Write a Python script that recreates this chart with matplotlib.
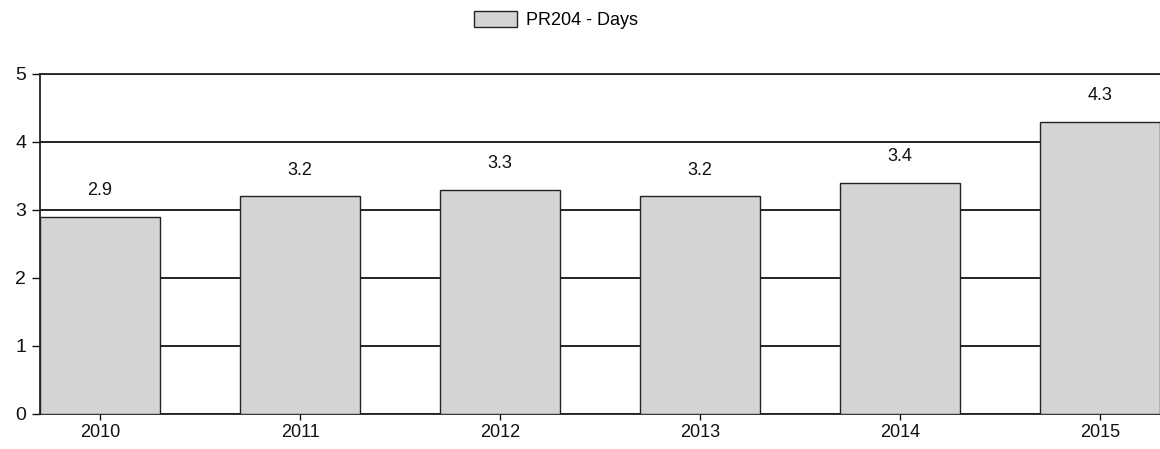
import matplotlib
matplotlib.use('Agg')
import matplotlib.pyplot as plt
import numpy as np

plt.rcParams['font.family'] = ['Liberation Sans', 'DejaVu Sans']

years = ['2010', '2011', '2012', '2013', '2014', '2015']
days = [2.9, 3.2, 3.3, 3.2, 3.4, 4.3]
series_name = 'PR204 - Days'

fig = plt.figure(figsize=(11.6, 4.49), dpi=100)
ax = fig.add_axes([40 / 1160, 35 / 449, 1120 / 1160, 340 / 449])

x = np.arange(len(years))
bars = ax.bar(x, days, width=0.6, color='#d4d4d4', edgecolor='#222222',
              linewidth=1.0, label=series_name, zorder=3)

for xi, v in zip(x, days):
    ax.annotate(f'{v}', (xi, v), xytext=(0, 19), textcoords='offset points',
                ha='center', va='center', fontsize=13, color='#111111')

ax.set_xlim(-0.3, 5.3)
ax.set_ylim(0, 5)
ax.set_yticks([0, 1, 2, 3, 4, 5])
ax.set_xticks(x)
ax.set_xticklabels(years)
ax.yaxis.grid(True, color='#111111', linewidth=1.3, zorder=1)
ax.set_axisbelow(True)

ax.spines['right'].set_visible(False)
for s in ['left', 'bottom', 'top']:
    ax.spines[s].set_color('#222222')
    ax.spines[s].set_linewidth(1.3)

ax.tick_params(axis='both', labelsize=13, colors='#111111', length=5, width=1)
ax.tick_params(axis='y', labelsize=14, length=6, pad=4)
ax.tick_params(axis='x', length=4, pad=3)

fig.legend(handles=[bars], labels=[series_name], loc='center',
           bbox_to_anchor=(556 / 1160, 1 - 20 / 449), frameon=False,
           fontsize=13, handlelength=2.4, handleheight=1.0, handletextpad=0.5)

fig.savefig('out.png', dpi=100, facecolor='white')
